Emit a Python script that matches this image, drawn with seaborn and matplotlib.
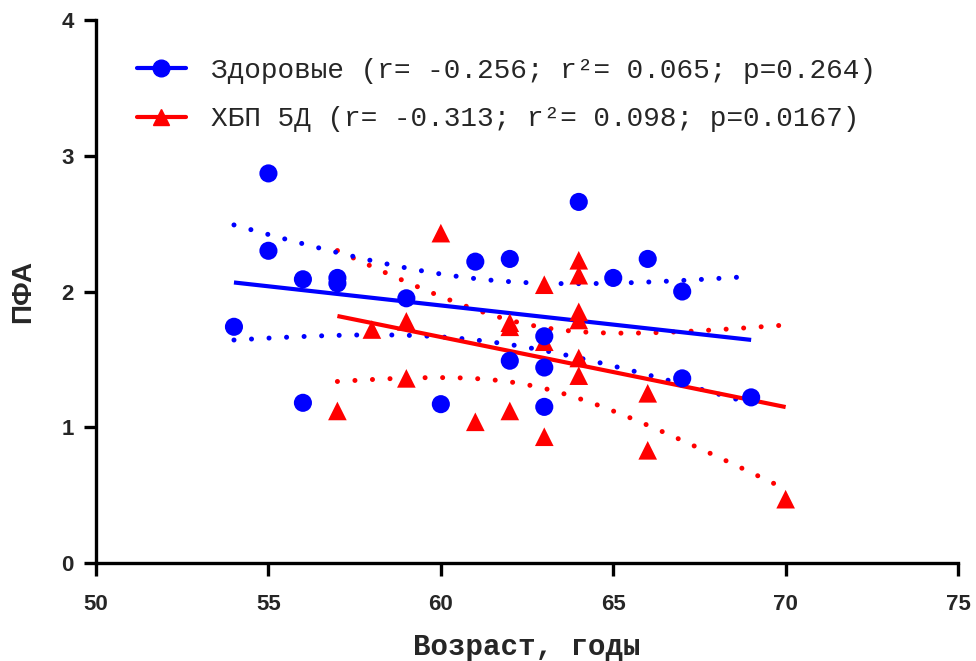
import numpy as np
import matplotlib
matplotlib.use("Agg")
import matplotlib.pyplot as plt
from matplotlib.lines import Line2D
import seaborn as sns
import pandas as pd

# Healthy group: age vs PFA
healthy_age = [54, 55, 55, 56, 56, 57, 57, 59, 60, 61, 62, 62, 63, 63, 63, 64, 65, 66, 67, 67, 69]
healthy_pfa = [1.74, 2.87, 2.30, 2.09, 1.18, 2.10, 2.06, 1.95, 1.17, 2.22, 2.24, 1.49, 1.67, 1.44,
               1.15, 2.66, 2.10, 2.24, 2.00, 1.36, 1.22]

# CKD 5D group: age vs PFA
ckd_age = [57, 58, 59, 59, 60, 61, 62, 62, 62, 63, 63, 63, 64, 64, 64, 64, 64, 64, 66, 66, 70]
ckd_pfa = [1.12, 1.72, 1.78, 1.36, 2.43, 1.04, 1.12, 1.77, 1.74, 2.05, 1.63, 0.93, 2.23, 2.12,
           1.85, 1.79, 1.51, 1.38, 1.25, 0.83, 0.47]

healthy_label = "Здоровые (r= -0.256; r²= 0.065; p=0.264)"
ckd_label = "ХБП 5Д (r= -0.313; r²= 0.098; p=0.0167)"

x_ticks = [50, 55, 60, 65, 70, 75]
y_ticks = [0, 1, 2, 3, 4]

BLUE = "#0000ff"
RED = "#ff0000"

sns.set_theme(style="white")
plt.rcParams["font.family"] = ["Liberation Sans", "DejaVu Sans"]

MONO = ["Liberation Mono", "DejaVu Sans Mono"]

# two-sided 95% t quantiles by degrees of freedom
T95 = {18: 2.101, 19: 2.093, 20: 2.086, 21: 2.080, 22: 2.074}


def fit_with_band(x, y, n_pts=200):
    """OLS fit and 95% confidence band of the regression line."""
    x = np.asarray(x, float)
    y = np.asarray(y, float)
    n = len(x)
    slope, intercept = np.polyfit(x, y, 1)
    resid = y - (slope * x + intercept)
    s = np.sqrt(np.sum(resid ** 2) / (n - 2))
    sxx = np.sum((x - x.mean()) ** 2)
    grid = np.linspace(x.min(), x.max(), n_pts)
    pred = slope * grid + intercept
    half = T95.get(n - 2, 2.0) * s * np.sqrt(1.0 / n + (grid - x.mean()) ** 2 / sxx)
    return grid, pred, pred - half, pred + half


fig = plt.figure(figsize=(9.76, 6.61), dpi=100)
ax = fig.add_axes([0.0984, 0.1483, 0.8832, 0.8214])

df_ckd = pd.DataFrame({"age": ckd_age, "pfa": ckd_pfa})
df_h = pd.DataFrame({"age": healthy_age, "pfa": healthy_pfa})

dot_kw = dict(lw=3.6, linestyle=(0, (0.01, 3.5)), dash_capstyle="round")

for df, color, marker in [(df_ckd, RED, "^"), (df_h, BLUE, "o")]:
    g, p, lo, hi = fit_with_band(df["age"], df["pfa"])
    ax.plot(g, lo, color=color, **dot_kw, zorder=2)
    ax.plot(g, hi, color=color, **dot_kw, zorder=2)
    ax.plot(g, p, color=color, lw=3.0, solid_capstyle="butt", zorder=3)
    sns.scatterplot(data=df, x="age", y="pfa", ax=ax, color=color, marker=marker,
                    s=170 if marker == "o" else 180, edgecolor="none", linewidth=0,
                    zorder=4, clip_on=False)

ax.set_xlim(50, 75)
ax.set_ylim(0, 4)
ax.set_xticks(x_ticks)
ax.set_yticks(y_ticks)
ax.set_xticklabels([str(t) for t in x_ticks], fontsize=16, fontweight="bold")
ax.set_yticklabels([str(t) for t in y_ticks], fontsize=16, fontweight="bold")

for side in ["top", "right"]:
    ax.spines[side].set_visible(False)
for side in ["left", "bottom"]:
    ax.spines[side].set_linewidth(2.4)
    ax.spines[side].set_color("black")
ax.tick_params(axis="both", direction="out", length=9, width=2.4, color="black",
               bottom=True, left=True)
ax.tick_params(axis="x", pad=13)
ax.tick_params(axis="y", pad=7)

ax.set_xlabel("Возраст, годы", fontsize=21, fontweight="bold", labelpad=13, family=MONO)
ax.set_ylabel("ПФА", fontsize=20, fontweight="bold", labelpad=18)

handles = [
    Line2D([], [], color=BLUE, lw=3.0, marker="o", markersize=12),
    Line2D([], [], color=RED, lw=3.0, marker="^", markersize=12),
]
leg = ax.legend(handles, [healthy_label, ckd_label], loc="upper left",
                bbox_to_anchor=(0.0476, 0.93), frameon=False, handlelength=1.75,
                handletextpad=0.9, labelspacing=0.8, borderpad=0, borderaxespad=0,
                prop={"family": MONO, "size": 20})

fig.savefig("out.png", dpi=100, facecolor="white")
